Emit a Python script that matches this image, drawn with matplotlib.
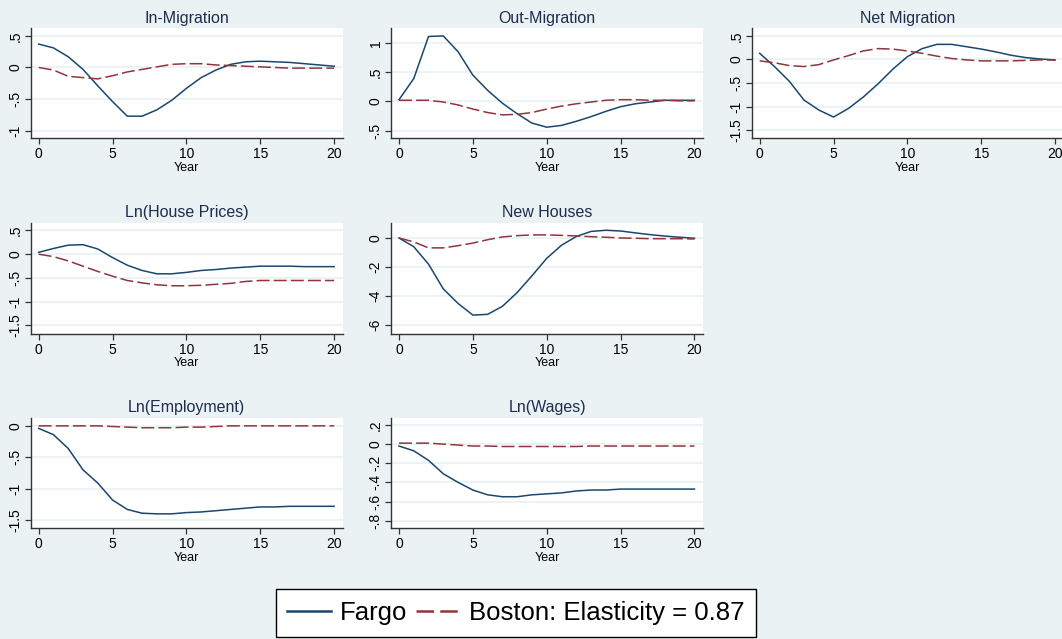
import matplotlib.pyplot as plt
from matplotlib.lines import Line2D

plt.rcParams['font.family'] = ['Liberation Sans', 'DejaVu Sans']

years = [0, 1, 2, 3, 4, 5, 6, 7, 8, 9, 10, 11, 12, 13, 14, 15, 16, 17, 18, 19, 20]

titles = ['In-Migration', 'Out-Migration', 'Net Migration',
          'Ln(House Prices)', 'New Houses', 'Ln(Employment)', 'Ln(Wages)']

fargo_in = [0.37, 0.31, 0.17, -0.03, -0.29, -0.54, -0.77, -0.77, -0.67, -0.52, -0.33,
            -0.16, -0.04, 0.05, 0.09, 0.10, 0.09, 0.08, 0.06, 0.04, 0.02]
boston_in = [0.0, -0.04, -0.14, -0.16, -0.18, -0.13, -0.07, -0.03, 0.01, 0.05, 0.06,
             0.06, 0.04, 0.03, 0.02, 0.01, 0.0, -0.01, -0.01, -0.01, -0.01]

fargo_out = [0.03, 0.39, 1.11, 1.12, 0.85, 0.45, 0.19, -0.03, -0.21, -0.37, -0.44,
             -0.41, -0.34, -0.26, -0.17, -0.09, -0.04, -0.01, 0.02, 0.02, 0.02]
boston_out = [0.02, 0.02, 0.02, -0.01, -0.06, -0.13, -0.19, -0.23, -0.22, -0.19, -0.13,
              -0.08, -0.04, -0.01, 0.02, 0.03, 0.03, 0.02, 0.02, 0.01, 0.01]

fargo_net = [0.13, -0.15, -0.46, -0.86, -1.07, -1.22, -1.04, -0.80, -0.52, -0.21, 0.06,
             0.23, 0.32, 0.32, 0.27, 0.22, 0.16, 0.09, 0.04, 0.01, -0.01]
boston_net = [-0.03, -0.07, -0.13, -0.15, -0.11, -0.01, 0.08, 0.18, 0.23, 0.22, 0.18,
              0.13, 0.07, 0.02, -0.01, -0.03, -0.03, -0.03, -0.02, -0.01, -0.01]

fargo_hp = [0.03, 0.11, 0.18, 0.19, 0.10, -0.08, -0.24, -0.35, -0.42, -0.42, -0.39,
            -0.35, -0.33, -0.30, -0.28, -0.26, -0.26, -0.26, -0.27, -0.27, -0.27]
boston_hp = [-0.01, -0.06, -0.15, -0.26, -0.37, -0.47, -0.56, -0.61, -0.65, -0.67, -0.67,
             -0.66, -0.64, -0.62, -0.58, -0.56, -0.56, -0.56, -0.56, -0.56, -0.56]

fargo_nh = [0.0, -0.6, -1.8, -3.5, -4.5, -5.3, -5.25, -4.7, -3.75, -2.6, -1.4,
            -0.5, 0.1, 0.45, 0.53, 0.48, 0.35, 0.23, 0.13, 0.05, -0.02]
boston_nh = [0.0, -0.27, -0.68, -0.68, -0.53, -0.35, -0.12, 0.07, 0.16, 0.21, 0.21,
             0.18, 0.14, 0.09, 0.05, 0.0, -0.02, -0.05, -0.05, -0.05, -0.07]

fargo_emp = [-0.04, -0.14, -0.36, -0.70, -0.91, -1.18, -1.33, -1.39, -1.40, -1.40, -1.38,
             -1.37, -1.35, -1.33, -1.31, -1.29, -1.29, -1.28, -1.28, -1.28, -1.28]
boston_emp = [0.0, 0.0, 0.0, 0.0, 0.0, -0.01, -0.02, -0.03, -0.03, -0.03, -0.02,
              -0.02, -0.01, 0.0, 0.0, 0.0, 0.0, 0.0, 0.0, 0.0, 0.0]

fargo_wage = [-0.02, -0.07, -0.17, -0.31, -0.40, -0.48, -0.53, -0.55, -0.55, -0.53, -0.52,
              -0.51, -0.49, -0.48, -0.48, -0.47, -0.47, -0.47, -0.47, -0.47, -0.47]
boston_wage = [0.01, 0.01, 0.01, 0.0, -0.01, -0.02, -0.02, -0.025, -0.025, -0.025, -0.025,
               -0.025, -0.025, -0.02, -0.02, -0.02, -0.02, -0.02, -0.02, -0.02, -0.02]

fargo_all = [fargo_in, fargo_out, fargo_net, fargo_hp, fargo_nh, fargo_emp, fargo_wage]
boston_all = [boston_in, boston_out, boston_net, boston_hp, boston_nh, boston_emp, boston_wage]

yticks_all = [[-1, -0.5, 0, 0.5], [-0.5, 0, 0.5, 1], [-1.5, -1, -0.5, 0, 0.5],
              [-1.5, -1, -0.5, 0, 0.5], [-6, -4, -2, 0], [-1.5, -1, -0.5, 0],
              [-0.8, -0.6, -0.4, -0.2, 0, 0.2]]
ylabels_all = [['-1', '-.5', '0', '.5'], ['-.5', '0', '.5', '1'],
               ['-1.5', '-1', '-.5', '0', '.5'], ['-1.5', '-1', '-.5', '0', '.5'],
               ['-6', '-4', '-2', '0'], ['-1.5', '-1', '-.5', '0'],
               ['-.8', '-.6', '-.4', '-.2', '0', '.2']]
ylims = [(-1.12, 0.62), (-0.63, 1.25), (-1.67, 0.66), (-1.68, 0.65),
         (-6.6, 1.05), (-1.63, 0.13), (-0.88, 0.276)]

# row, column of each panel (3 on top, then 2 and 2)
grid_pos = [(0, 0), (0, 1), (0, 2), (1, 0), (1, 1), (2, 0), (2, 1)]

bg = '#eaf2f3'
navy = '#1a476f'
maroon = '#90353b'

W, H = 1062, 639
fig = plt.figure(figsize=(W / 100, H / 100), dpi=100, facecolor=bg)

col_left = [30.7, 391, 751.7]
row_top = [28.3, 222.7, 417.7]
row_h = [110, 111.3, 110.6]
aw = 312.3

for i in range(7):
    r, c = grid_pos[i]
    ax = fig.add_axes([col_left[c] / W, 1 - (row_top[r] + row_h[r]) / H, aw / W, row_h[r] / H])
    ax.set_facecolor('white')
    ax.plot(years, fargo_all[i], color=navy, lw=1.1)
    ax.plot(years, boston_all[i], color=maroon, lw=1.1, dashes=(8.5, 2.7))
    ax.set_xlim(-0.54, 20.6)
    ax.set_ylim(ylims[i])
    ax.set_xticks([0, 5, 10, 15, 20])
    ax.set_yticks(yticks_all[i])
    ax.set_yticklabels(ylabels_all[i], rotation=90, va='center')
    ax.tick_params(direction='out', length=4, width=0.9, color='#333333',
                   labelsize=10, pad=2.5)
    ax.tick_params(axis='y', pad=2)
    ax.grid(axis='y', color=bg, lw=1.3)
    ax.set_axisbelow(True)
    for s in ['top', 'right']:
        ax.spines[s].set_visible(False)
    for s in ['left', 'bottom']:
        ax.spines[s].set_color('#333333')
        ax.spines[s].set_linewidth(1.0)
    ax.set_title(titles[i], fontsize=11.5, color='#1e2c4f', pad=4)
    ax.set_xlabel('Year', fontsize=9, labelpad=0.3)

handles = [Line2D([], [], color=navy, lw=1.8),
           Line2D([], [], color=maroon, lw=1.8, dashes=(7, 2.5))]
fig.legend(handles, ['Fargo', 'Boston: Elasticity = 0.87'], loc='center',
           bbox_to_anchor=(515.7 / W, 1 - 613 / H), ncol=2, fontsize=18.5,
           frameon=True, fancybox=False, edgecolor='black', framealpha=1,
           handlelength=1.7, handletextpad=0.35, columnspacing=0.35,
           borderpad=0.45, borderaxespad=0)

fig.savefig('out.png', dpi=100, facecolor=bg)
